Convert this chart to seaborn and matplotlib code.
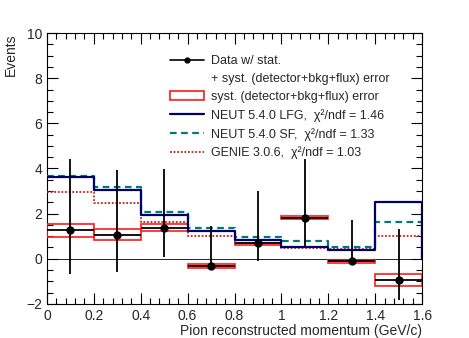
import numpy as np
import pandas as pd
import matplotlib
matplotlib.use("Agg")
import matplotlib.pyplot as plt
from matplotlib.patches import Rectangle
from matplotlib.lines import Line2D
from matplotlib.ticker import MultipleLocator
import seaborn as sns

# bins in pion reconstructed momentum (GeV/c)
edges = [0.0, 0.2, 0.4, 0.6, 0.8, 1.0, 1.2, 1.4, 1.6]

# data points with total error
data_val = [1.28, 1.05, 1.37, -0.32, 0.71, 1.81, -0.10, -0.94]
err_lo = [-0.66, -0.59, 0.07, -0.40, -0.10, 0.54, -0.20, -1.81]
err_hi = [4.40, 3.94, 3.98, 1.47, 3.00, 4.41, 1.71, 1.34]

# systematic error band
syst_lo = [0.96, 0.81, 1.22, -0.43, 0.62, 1.76, -0.19, -1.22]
syst_hi = [1.55, 1.31, 1.52, -0.22, 0.81, 1.90, -0.04, -0.69]

# generator predictions
neut_lfg = [3.61, 3.04, 1.96, 1.24, 0.81, 0.54, 0.40, 2.50]
neut_sf = [3.65, 3.17, 2.07, 1.36, 0.96, 0.80, 0.54, 1.65]
genie = [2.96, 2.49, 1.62, 1.02, 0.70, 0.47, 0.42, 1.02]

sns.set_style("ticks")
plt.rcParams['font.family'] = ['Liberation Sans', 'DejaVu Sans']

fig = plt.figure(figsize=(4.69, 3.38), dpi=100)
ax = fig.add_axes([0.100, 0.101, 0.800, 0.801])

e = np.array(edges)
centers = (e[:-1] + e[1:]) / 2
half = np.diff(e) / 2

# zero line
ax.axhline(0, color='black', lw=0.6, zorder=1)

# syst boxes
for i in range(len(centers)):
    ax.add_patch(Rectangle((e[i], syst_lo[i]), e[i + 1] - e[i], syst_hi[i] - syst_lo[i],
                           fill=False, edgecolor='#ff1a1a', lw=1.2, zorder=3))


def step_xy(vals):
    xs = np.concatenate([[e[0]], np.repeat(e[1:-1], 2), [e[-1], e[-1]]])
    ys = np.concatenate([np.repeat(vals, 2), [0.0]])
    return pd.DataFrame({'x': xs, 'y': ys})


models = [
    (genie, '#c81e1e', (0, (1, 1)), 1.3),
    (neut_sf, '#007878', (0, (3, 2)), 1.6),
    (neut_lfg, '#000066', '-', 1.6),
]
for vals, col, ls, lw in models:
    df = step_xy(vals)
    sns.lineplot(data=df, x='x', y='y', estimator=None, sort=False, ax=ax,
                 color=col, linestyle=ls, lw=lw, zorder=4)

# data
d = np.array(data_val)
ax.errorbar(centers, d, xerr=half,
            yerr=[d - np.array(err_lo), np.array(err_hi) - d],
            fmt='o', color='black', ms=5, elinewidth=1.3, capsize=0, zorder=6)

ax.set_xlim(0, 1.6)
ax.set_ylim(-2, 10)
ax.xaxis.set_major_locator(MultipleLocator(0.2))
ax.xaxis.set_minor_locator(MultipleLocator(0.04))
ax.yaxis.set_major_locator(MultipleLocator(2))
ax.yaxis.set_minor_locator(MultipleLocator(0.5))
ax.set_xticks([0, 0.2, 0.4, 0.6, 0.8, 1.0, 1.2, 1.4, 1.6])
ax.set_xticklabels(['0', '0.2', '0.4', '0.6', '0.8', '1', '1.2', '1.4', '1.6'])
ax.tick_params(which='both', direction='in', top=True, right=True, labelsize=10,
               width=0.8, color='black')
ax.tick_params(which='major', length=8)
ax.tick_params(which='minor', length=4)
for s in ax.spines.values():
    s.set_linewidth(0.8)
    s.set_color('black')

ax.set_xlabel('Pion reconstructed momentum (GeV/c)', fontsize=10, loc='right', labelpad=1)
ax.set_ylabel('Events', fontsize=10, loc='top')
ax.yaxis.set_label_coords(-0.078, 1.0)

handles = [
    Line2D([], [], color='black', marker='o', ms=3.5, lw=1.2),
    Line2D([], [], color='none'),
    Rectangle((0, 0), 1, 1, fill=False, edgecolor='#ff1a1a', lw=1.2),
    Line2D([], [], color='#000066', lw=1.6),
    Line2D([], [], color='#007878', lw=1.6, linestyle=(0, (3, 2))),
    Line2D([], [], color='#c81e1e', lw=1.3, linestyle=(0, (1, 1))),
]
labels = [
    'Data w/ stat.',
    '+ syst. (detector+bkg+flux) error',
    'syst. (detector+bkg+flux) error',
    'NEUT 5.4.0 LFG,  χ²/ndf = 1.46',
    'NEUT 5.4.0 SF,  χ²/ndf = 1.33',
    'GENIE 3.0.6,  χ²/ndf = 1.03',
]
ax.legend(handles, labels, loc='upper left', bbox_to_anchor=(0.315, 0.938),
          frameon=False, fontsize=9, handlelength=2.7, handletextpad=0.6,
          labelspacing=0.48, borderaxespad=0)

fig.savefig('out.png', dpi=100)
